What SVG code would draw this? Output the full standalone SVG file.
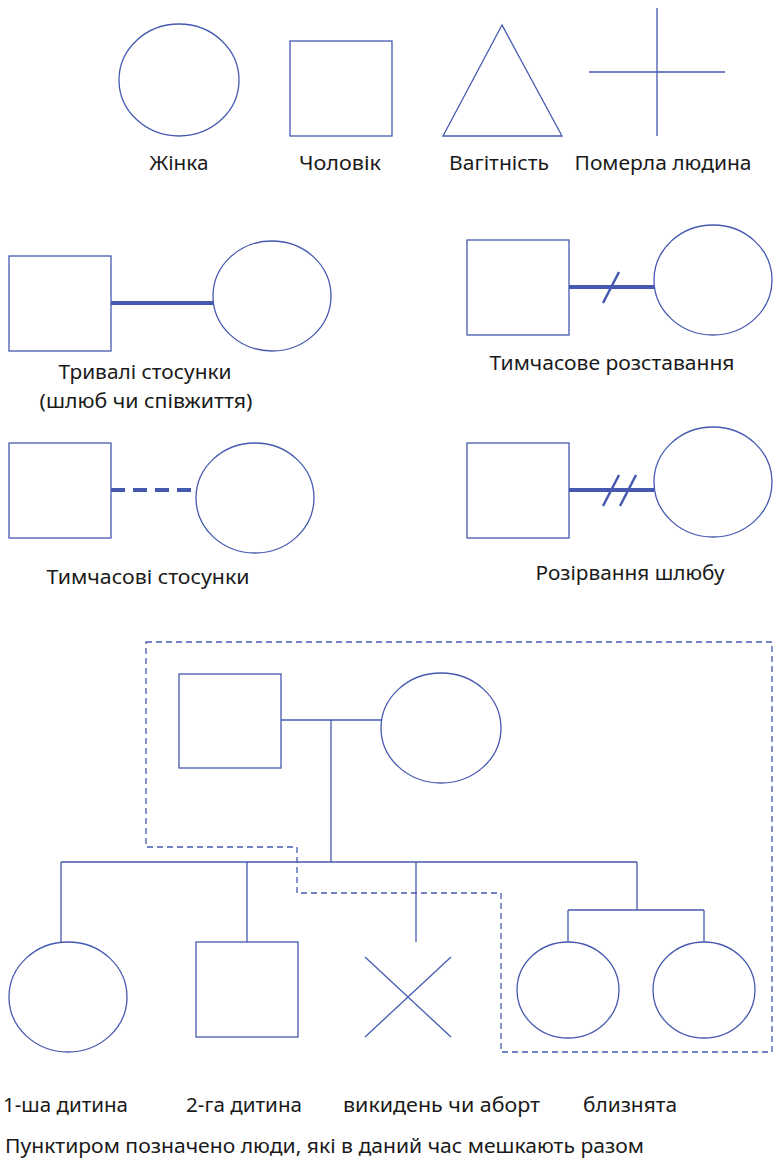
<svg xmlns="http://www.w3.org/2000/svg" width="774" height="1160" viewBox="0 0 774 1160">
  <style>
    .shape { fill: none; stroke: #4659b0; stroke-width: 1.3; }
    .link { fill: none; stroke: #4659b0; stroke-width: 1.3; }
    .bond { fill: none; stroke: #4659b0; stroke-width: 4; }
    .bond-dash { fill: none; stroke: #4659b0; stroke-width: 4; stroke-dasharray: 14 8; }
    .slash { fill: none; stroke: #4659b0; stroke-width: 2.5; }
    .home { fill: none; stroke: #4659b0; stroke-width: 1.3; stroke-dasharray: 6 4; }
    .label { font-family: "Noto Sans", "Open Sans", sans-serif; font-size: 20px; fill: #1a1a1a; text-anchor: middle; }
    .cap { font-family: "Noto Sans", "Open Sans", sans-serif; font-size: 20px; fill: #1a1a1a; }
  </style>

  <!-- Legend: basic symbols -->
  <g id="legend-female">
    <ellipse class="shape" cx="179" cy="80" rx="60" ry="56"/>
    <text class="label" x="179" y="170" textLength="59" lengthAdjust="spacingAndGlyphs">Жінка</text>
  </g>
  <g id="legend-male">
    <rect class="shape" x="290" y="41" width="102" height="95"/>
    <text class="label" x="340" y="170" textLength="82" lengthAdjust="spacingAndGlyphs">Чоловік</text>
  </g>
  <g id="legend-pregnancy">
    <polygon class="shape" points="502,25 443,136 562,136"/>
    <text class="label" x="499" y="170" textLength="100" lengthAdjust="spacingAndGlyphs">Вагітність</text>
  </g>
  <g id="legend-deceased">
    <line class="shape" x1="657" y1="8" x2="657" y2="136"/>
    <line class="shape" x1="589" y1="72" x2="725" y2="72"/>
    <text class="label" x="663" y="170" textLength="177" lengthAdjust="spacingAndGlyphs">Померла людина</text>
  </g>

  <!-- Legend: relationship types -->
  <g id="rel-long-male"><rect class="shape" x="9" y="256" width="102" height="95"/></g>
  <g id="rel-long-female"><ellipse class="shape" cx="272" cy="296" rx="59" ry="55"/></g>
  <g id="rel-long-label">
    <text class="label" x="145" y="379" textLength="173" lengthAdjust="spacingAndGlyphs">Тривалі стосунки</text>
    <text class="label" x="146" y="408" textLength="213" lengthAdjust="spacingAndGlyphs">(шлюб чи співжиття)</text>
  </g>

  <g id="rel-sep-male"><rect class="shape" x="467" y="240" width="102" height="95"/></g>
  <g id="rel-sep-female"><ellipse class="shape" cx="713" cy="280" rx="59" ry="55"/></g>
  <g id="rel-sep-label">
    <text class="label" x="612" y="370" textLength="245" lengthAdjust="spacingAndGlyphs">Тимчасове розставання</text>
  </g>

  <g id="rel-temp-male"><rect class="shape" x="9" y="443" width="102" height="95"/></g>
  <g id="rel-temp-female"><ellipse class="shape" cx="255" cy="498" rx="59" ry="55"/></g>
  <g id="rel-temp-label">
    <text class="label" x="148" y="584" textLength="203" lengthAdjust="spacingAndGlyphs">Тимчасові стосунки</text>
  </g>

  <g id="rel-div-male"><rect class="shape" x="467" y="443" width="102" height="95"/></g>
  <g id="rel-div-female"><ellipse class="shape" cx="713" cy="482" rx="59" ry="55"/></g>
  <g id="rel-div-label">
    <text class="label" x="630" y="580" textLength="189" lengthAdjust="spacingAndGlyphs">Розірвання шлюбу</text>
  </g>

  <!-- Example family -->
  <g id="father"><rect class="shape" x="179" y="674" width="102" height="94"/></g>
  <g id="mother"><ellipse class="shape" cx="441" cy="728" rx="60" ry="55"/></g>
  <g id="child-1"><ellipse class="shape" cx="68" cy="997" rx="59" ry="55"/></g>
  <g id="child-2"><rect class="shape" x="196" y="942" width="102" height="95"/></g>
  <g id="miscarriage">
    <line class="shape" x1="365" y1="957" x2="451" y2="1037"/>
    <line class="shape" x1="451" y1="957" x2="365" y2="1037"/>
  </g>
  <g id="twin-1"><ellipse class="shape" cx="568" cy="990" rx="51" ry="48"/></g>
  <g id="twin-2"><ellipse class="shape" cx="704" cy="990" rx="51" ry="48"/></g>

  <g id="family-labels">
    <text class="cap" x="3" y="1112" textLength="125" lengthAdjust="spacingAndGlyphs">1-ша дитина</text>
    <text class="cap" x="186" y="1112" textLength="116" lengthAdjust="spacingAndGlyphs">2-га дитина</text>
    <text class="cap" x="343" y="1112" textLength="197" lengthAdjust="spacingAndGlyphs">викидень чи аборт</text>
    <text class="cap" x="583" y="1112" textLength="94" lengthAdjust="spacingAndGlyphs">близнята</text>
    <text class="cap" x="5" y="1153" textLength="639" lengthAdjust="spacingAndGlyphs">Пунктиром позначено люди, які в даний час мешкають разом</text>
  </g>

  <!-- Household boundary -->
  <g id="household">
    <path class="home" d="M146,642 H772 V1052 H501 V893 H297 V847 H146 Z"/>
  </g>

  <!-- Connectors -->
  <g id="connectors">
    <line class="bond" x1="111" y1="303" x2="213" y2="303"/>

    <line class="bond" x1="569" y1="287" x2="654" y2="287"/>
    <line class="slash" x1="603" y1="303" x2="619" y2="272"/>

    <line class="bond-dash" x1="111" y1="490" x2="196" y2="490"/>

    <line class="bond" x1="569" y1="490" x2="654" y2="490"/>
    <line class="slash" x1="603" y1="506" x2="619" y2="475"/>
    <line class="slash" x1="620" y1="506" x2="636" y2="475"/>

    <line class="link" x1="281" y1="720" x2="382" y2="720"/>
    <line class="link" x1="331" y1="720" x2="331" y2="862"/>
    <line class="link" x1="61" y1="862" x2="637" y2="862"/>
    <line class="link" x1="61" y1="862" x2="61" y2="942"/>
    <line class="link" x1="247" y1="862" x2="247" y2="942"/>
    <line class="link" x1="416" y1="862" x2="416" y2="942"/>
    <line class="link" x1="637" y1="862" x2="637" y2="910"/>
    <line class="link" x1="568" y1="910" x2="704" y2="910"/>
    <line class="link" x1="568" y1="910" x2="568" y2="942"/>
    <line class="link" x1="704" y1="910" x2="704" y2="942"/>
  </g>
</svg>
